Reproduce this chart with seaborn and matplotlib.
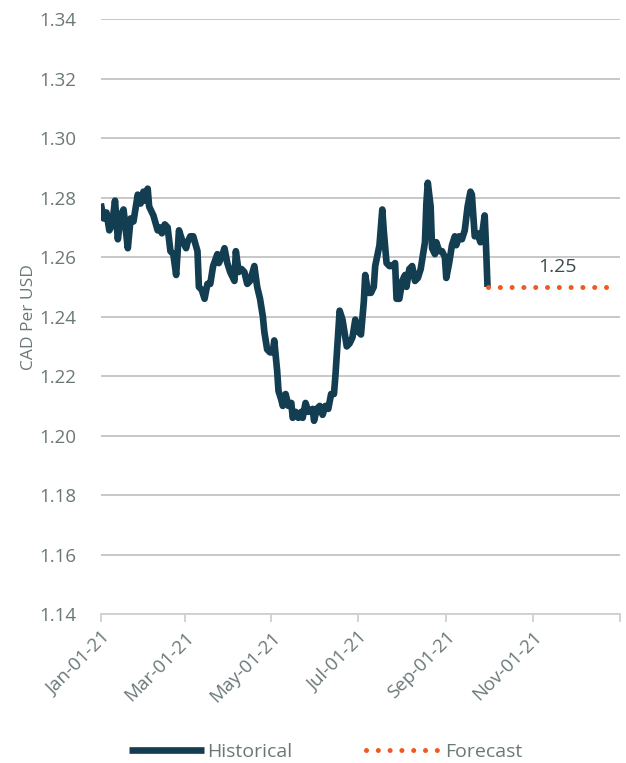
import pandas as pd
import matplotlib.pyplot as plt
import seaborn as sns

# historical CAD per USD
hist_dates = ['2021-01-01', '2021-01-03', '2021-01-05', '2021-01-07', '2021-01-09', '2021-01-11',
              '2021-01-13', '2021-01-15', '2021-01-17', '2021-01-20', '2021-01-22', '2021-01-24',
              '2021-01-26', '2021-01-27', '2021-01-29', '2021-01-31', '2021-02-01', '2021-02-03',
              '2021-02-04', '2021-02-07', '2021-02-10', '2021-02-12', '2021-02-13', '2021-02-15',
              '2021-02-17', '2021-02-19', '2021-02-21', '2021-02-23', '2021-02-25', '2021-02-27',
              '2021-03-02', '2021-03-03', '2021-03-05', '2021-03-07', '2021-03-10', '2021-03-11',
              '2021-03-13', '2021-03-15', '2021-03-17', '2021-03-19', '2021-03-21', '2021-03-24',
              '2021-03-25', '2021-03-27', '2021-03-29', '2021-03-31', '2021-04-02', '2021-04-05',
              '2021-04-06', '2021-04-08', '2021-04-10', '2021-04-12', '2021-04-14', '2021-04-16',
              '2021-04-19', '2021-04-21', '2021-04-23', '2021-04-25', '2021-04-26', '2021-04-28',
              '2021-04-30', '2021-05-02', '2021-05-03', '2021-05-05', '2021-05-06', '2021-05-08',
              '2021-05-09', '2021-05-11', '2021-05-13', '2021-05-15', '2021-05-16', '2021-05-18',
              '2021-05-20', '2021-05-22', '2021-05-23', '2021-05-25', '2021-05-27', '2021-05-30',
              '2021-05-31', '2021-06-02', '2021-06-04', '2021-06-06', '2021-06-08', '2021-06-10',
              '2021-06-12', '2021-06-14', '2021-06-15', '2021-06-17', '2021-06-18', '2021-06-20',
              '2021-06-23', '2021-06-25', '2021-06-27', '2021-06-29', '2021-07-01', '2021-07-03',
              '2021-07-05', '2021-07-06', '2021-07-08', '2021-07-10', '2021-07-12', '2021-07-13',
              '2021-07-16', '2021-07-18', '2021-07-19', '2021-07-21', '2021-07-23', '2021-07-25',
              '2021-07-27', '2021-07-28', '2021-07-30', '2021-08-01', '2021-08-03', '2021-08-04',
              '2021-08-06', '2021-08-08', '2021-08-10', '2021-08-12', '2021-08-14', '2021-08-17',
              '2021-08-18', '2021-08-19', '2021-08-21', '2021-08-22', '2021-08-24', '2021-08-25',
              '2021-08-27', '2021-08-29', '2021-08-31', '2021-09-01', '2021-09-03', '2021-09-05',
              '2021-09-07', '2021-09-08', '2021-09-10', '2021-09-12', '2021-09-14', '2021-09-16',
              '2021-09-18', '2021-09-19', '2021-09-21', '2021-09-23', '2021-09-25', '2021-09-26',
              '2021-09-28', '2021-09-29', '2021-09-30']
hist_vals = [1.278, 1.273, 1.275, 1.269, 1.271, 1.279,
             1.266, 1.274, 1.276, 1.263, 1.273, 1.272,
             1.278, 1.281, 1.278, 1.282, 1.279, 1.283,
             1.277, 1.274, 1.269, 1.270, 1.268, 1.271,
             1.270, 1.262, 1.261, 1.254, 1.269, 1.266,
             1.263, 1.265, 1.267, 1.267, 1.262, 1.250,
             1.249, 1.246, 1.251, 1.251, 1.257, 1.261,
             1.258, 1.260, 1.263, 1.258, 1.255, 1.252,
             1.262, 1.255, 1.256, 1.255, 1.251, 1.252,
             1.257, 1.250, 1.246, 1.240, 1.235, 1.229,
             1.228, 1.228, 1.232, 1.222, 1.215, 1.212,
             1.210, 1.214, 1.210, 1.211, 1.206, 1.208,
             1.206, 1.208, 1.206, 1.211, 1.208, 1.209,
             1.205, 1.209, 1.210, 1.207, 1.210, 1.209,
             1.214, 1.214, 1.220, 1.235, 1.242, 1.239,
             1.230, 1.231, 1.233, 1.239, 1.235, 1.234,
             1.245, 1.254, 1.248, 1.248, 1.250, 1.257,
             1.264, 1.276, 1.269, 1.258, 1.257, 1.257,
             1.258, 1.246, 1.246, 1.252, 1.254, 1.250,
             1.256, 1.257, 1.252, 1.253, 1.256, 1.265,
             1.278, 1.285, 1.277, 1.263, 1.261, 1.265,
             1.262, 1.262, 1.260, 1.253, 1.258, 1.264,
             1.267, 1.264, 1.267, 1.266, 1.269, 1.277,
             1.282, 1.281, 1.267, 1.268, 1.265, 1.267,
             1.274, 1.263, 1.250]

forecast_dates = ['2021-09-30', '2021-12-28']
forecast_vals = [1.25, 1.25]
forecast_label = '1.25'

hist = pd.DataFrame({'date': pd.to_datetime(hist_dates), 'value': hist_vals})
fc = pd.DataFrame({'date': pd.to_datetime(forecast_dates), 'value': forecast_vals})

sns.set_style('white')
plt.rcParams['font.family'] = ['Open Sans', 'DejaVu Sans']

text_col = '#6b7878'
grid_col = '#c4c4c4'
line_col = '#133d51'
fc_col = '#f05a22'

fig = plt.figure(figsize=(6.26, 7.63), dpi=100)
ax = fig.add_axes([0.161, 0.195, 0.829, 0.780])

sns.lineplot(data=hist, x='date', y='value', ax=ax, color=line_col, linewidth=4.8,
             label='Historical', solid_joinstyle='round', solid_capstyle='butt')
sns.lineplot(data=fc, x='date', y='value', ax=ax, color=fc_col, linewidth=3.6,
             label='Forecast', linestyle=(0, (0.01, 2.35)), dash_capstyle='round')

ax.text(pd.Timestamp('2021-11-18'), 1.2535, forecast_label, ha='center', va='bottom',
        fontsize=14, fontweight='medium', color='#3f4a4a')

ax.set_ylim(1.14, 1.34)
ax.set_yticks([1.14 + 0.02 * i for i in range(11)])
ax.yaxis.set_major_formatter(plt.FuncFormatter(lambda v, p: f'{v:.2f}'))
ax.set_xlim(pd.Timestamp('2021-01-01'), pd.Timestamp('2022-01-01'))
xt = pd.date_range('2021-01-01', '2022-01-01', freq='2MS')
ax.set_xticks(xt)
ax.set_xticklabels([d.strftime('%b-%d-%y') if d.year == 2021 else '' for d in xt],
                   rotation=45, ha='right', rotation_mode='anchor')

ax.grid(axis='y', color=grid_col, linewidth=1.3)
ax.set_axisbelow(True)
for s in ['left', 'right', 'top']:
    ax.spines[s].set_visible(False)
ax.spines['bottom'].set_color('#d0d0d0')
ax.spines['bottom'].set_linewidth(1.3)
ax.tick_params(axis='x', bottom=True, length=6, width=1.3, color='#d0d0d0',
               labelsize=13.5, labelcolor=text_col, pad=4)
ax.tick_params(axis='y', left=False, labelsize=13.5, labelcolor=text_col, pad=14)

ax.set_xlabel('')
ax.set_ylabel('CAD Per USD', fontsize=12.5, color=text_col, labelpad=2)

leg = ax.legend(loc='center', bbox_to_anchor=(0.52, 0.0145), bbox_transform=fig.transFigure,
                ncol=2, frameon=False, fontsize=14, handlelength=3.9, handletextpad=0.15,
                columnspacing=3.8, labelcolor=text_col)

fig.savefig('out.png', dpi=100)
